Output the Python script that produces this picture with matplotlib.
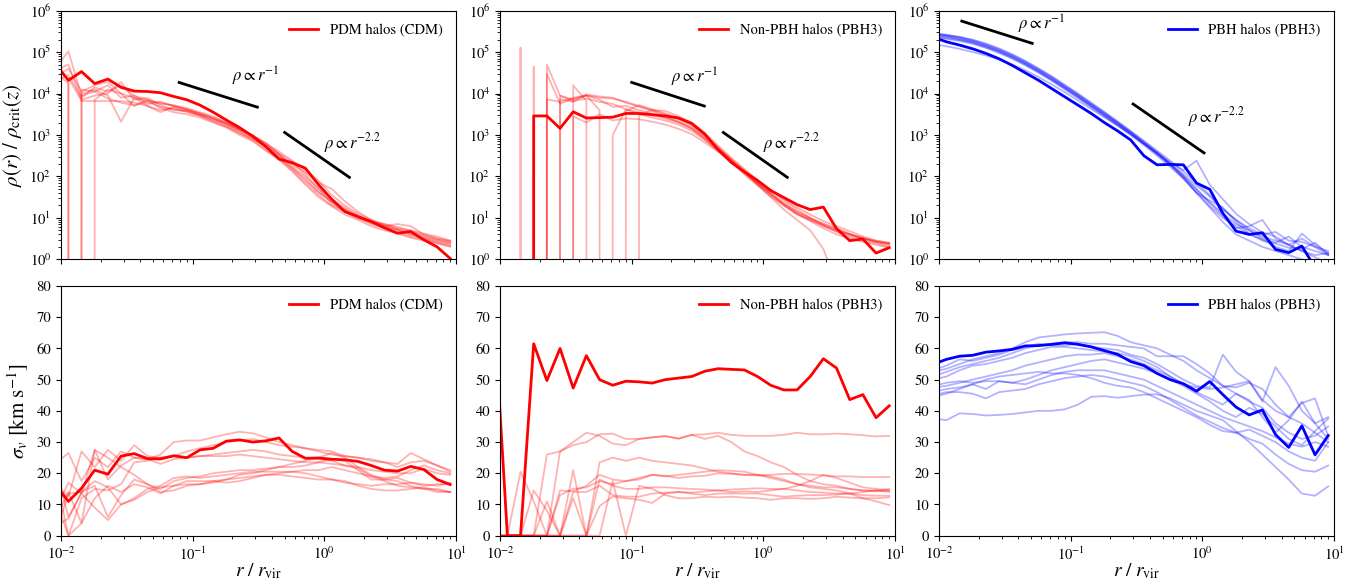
import numpy as np
import matplotlib
matplotlib.use("Agg")
import matplotlib.pyplot as plt

plt.rcParams["font.family"] = "serif"
plt.rcParams["font.serif"] = ["STIXGeneral", "Liberation Serif", "DejaVu Serif"]
plt.rcParams["mathtext.fontset"] = "stix"

Z = -np.inf  # empty bin (rho = 0)

# radial bins, r / r_vir (first one sits just left of the axis)
r_bins = [0.00904, 0.01138, 0.01432, 0.01803, 0.0227, 0.02858, 0.03597, 0.04529, 0.05702, 0.07178, 0.09036,
          0.1138, 0.1432, 0.1803, 0.2270, 0.2858, 0.3597, 0.4529, 0.5702, 0.7178, 0.9036,
          1.138, 1.432, 1.803, 2.270, 2.858, 3.597, 4.529, 5.702, 7.178, 9.036]

# ---- density profiles, log10(rho / rho_crit) ----
rho_cdm_main = [4.72, 4.32, 4.53, 4.24, 4.35, 4.15, 4.06, 4.05, 4.02, 3.93, 3.85,
                3.72, 3.55, 3.36, 3.18, 2.97, 2.72, 2.42, 2.33, 2.2, 1.8,
                1.45, 1.15, 1.03, 0.91, 0.76, 0.63, 0.67, 0.47, 0.3, 0.02]
rho_cdm_halos = [
    [4.6, 5.02, 3.95, 4.05, 4.2, 3.9, 3.95, 3.85, 3.75, 3.72, 3.65,
     3.55, 3.45, 3.3, 3.15, 3.0, 2.8, 2.55, 2.25, 2.0, 1.7,
     1.45, 1.25, 1.05, 0.9, 0.8, 0.72, 0.6, 0.52, 0.45, 0.38],
    [4.5, 4.25, Z, 3.85, 4.1, 4.0, 3.9, 3.82, 3.78, 3.7, 3.62,
     3.5, 3.4, 3.28, 3.12, 2.95, 2.72, 2.45, 2.15, 1.85, 1.55,
     1.3, 1.15, 1.0, 0.85, 0.75, 0.65, 0.55, 0.48, 0.4, 0.32],
    [4.65, Z, 4.0, 4.1, 3.95, 3.32, 3.9, 3.7, 3.55, 3.68, 3.6,
     3.52, 3.42, 3.3, 3.15, 2.98, 2.78, 2.52, 2.2, 1.9, 1.62,
     1.4, 1.2, 1.02, 0.88, 0.78, 0.7, 0.6, 0.5, 0.42, 0.35],
    [4.3, 4.45, 3.9, 4.15, 4.05, 4.2, 3.95, 3.75, 3.8, 3.7, 3.62,
     3.52, 3.4, 3.25, 3.1, 2.92, 2.7, 2.5, 2.3, 2.1, 1.85,
     1.7, 1.4, 1.15, 0.95, 0.82, 0.72, 0.65, 0.55, 0.47, 0.4],
    [4.55, 4.7, 3.85, 3.95, 4.0, 4.28, 3.85, 3.9, 3.72, 3.6, 3.58,
     3.48, 3.35, 3.22, 3.05, 2.9, 2.75, 2.55, 2.35, 2.05, 1.7,
     1.35, 1.15, 0.98, 0.92, 0.8, 0.85, 0.8, 0.6, 0.5, 0.45],
    [4.2, Z, 4.1, 4.05, 3.88, 3.78, 3.72, 3.8, 3.68, 3.62, 3.58,
     3.46, 3.32, 3.2, 3.05, 2.88, 2.65, 2.4, 2.12, 1.8, 1.5,
     1.28, 1.08, 0.95, 0.8, 0.7, 0.62, 0.52, 0.45, 0.38, 0.3],
    [Z, 4.38, 3.82, 3.82, 3.82, 3.82, 3.78, 3.7, 3.6, 3.65, 3.55,
     3.47, 3.37, 3.27, 3.12, 2.98, 2.8, 2.6, 2.38, 2.15, 1.9,
     1.55, 1.3, 1.1, 0.95, 0.85, 0.75, 0.7, 0.62, 0.55, 0.45],
    [4.4, 4.6, 4.05, 4.2, 4.28, 4.0, 3.7, 3.85, 3.65, 3.55, 3.5,
     3.42, 3.3, 3.18, 3.0, 2.85, 2.62, 2.42, 2.2, 1.95, 1.62,
     1.38, 1.2, 1.05, 0.9, 0.85, 0.78, 0.68, 0.58, 0.5, 0.42],
]

rho_npbh_main = [Z, Z, Z, 3.46, 3.46, 3.16, 3.56, 3.41, 3.42, 3.43, 3.52,
                 3.52, 3.49, 3.46, 3.41, 3.28, 3.02, 2.65, 2.34, 2.11, 1.9,
                 1.66, 1.49, 1.32, 1.2, 1.26, 0.74, 0.45, 0.49, 0.15, 0.28]
rho_npbh_halos = [
    [Z, Z, 5.11, Z, 4.7, 3.95, 3.85, 3.95, 3.9, 3.88, 3.8,
     3.7, 3.6, 3.5, 3.38, 3.22, 2.98, 2.7, 2.4, 2.1, 1.85,
     1.6, 1.35, 1.15, 1.0, 0.82, 0.66, 0.55, 0.45, 0.38, 0.3],
    [Z, Z, Z, 4.65, Z, 3.87, 3.8, 3.98, 3.93, 3.9, 3.78,
     3.68, 3.58, 3.45, 3.32, 3.15, 2.9, 2.62, 2.35, 2.08, 1.82,
     1.58, 1.32, 1.1, 0.92, 0.75, 0.6, 0.5, 0.42, 0.35, 0.28],
    [Z, Z, Z, Z, 4.48, 3.75, 3.88, 3.95, 3.6, Z, 3.58,
     3.72, 3.62, 3.52, 3.4, 3.25, 3.0, 2.7, 2.42, 2.15, 1.9,
     1.65, 1.42, 1.2, 1.0, 0.85, 0.72, 0.6, 0.5, 0.42, 0.36],
    [Z, Z, Z, Z, Z, Z, 4.2, 3.82, Z, 3.0, 3.62,
     3.55, 3.48, 3.4, 3.3, 3.15, 2.92, 2.65, 2.38, 2.1, 1.8,
     1.5, 1.2, 0.95, 0.7, 0.25, -0.6, -1.2, -1.5, -1.5, -1.5],
    [Z, Z, Z, Z, Z, Z, Z, Z, Z, Z, Z,
     3.48, 3.6, 3.58, 3.45, 3.3, 3.05, 2.75, 2.45, 2.18, 1.92,
     1.68, 1.45, 1.25, 1.08, 0.92, 0.8, 0.68, 0.55, 0.45, 0.4],
    [Z, Z, Z, Z, Z, 3.95, 3.82, 3.88, 3.8, 3.75, 3.62,
     3.5, 3.42, 3.35, 3.25, 3.1, 2.88, 2.62, 2.35, 2.05, 1.78,
     1.52, 1.3, 1.08, 0.95, 0.8, 0.68, 0.6, 0.5, 0.42, 0.35],
    [Z, Z, Z, Z, 3.86, 3.8, 3.9, 3.96, 3.85, 3.68, 3.7,
     3.6, 3.52, 3.42, 3.32, 3.18, 2.95, 2.68, 2.4, 2.12, 1.85,
     1.58, 1.35, 1.14, 0.98, 0.86, 0.75, 0.62, 0.5, 0.42, 0.38],
    [Z, Z, Z, Z, Z, Z, 3.45, 3.3, 3.5, 3.35, 3.4,
     3.38, 3.32, 3.25, 3.15, 3.02, 2.82, 2.6, 2.35, 2.1, 1.82,
     1.55, 1.3, 1.1, 0.95, 0.82, 0.7, 0.6, 0.52, 0.45, 0.4],
]

rho_pbh_main = [5.36, 5.25, 5.17, 5.08, 4.97, 4.84, 4.68, 4.5, 4.32, 4.12, 3.92,
                3.72, 3.52, 3.3, 3.1, 2.88, 2.5, 2.28, 2.29, 2.28, 1.84,
                1.69, 1.11, 0.68, 0.6, 0.64, 0.24, 0.16, 0.32, -0.2, -0.1]
rho_pbh_halos = [
    [5.46, 5.42, 5.37, 5.3, 5.21, 5.09, 4.95, 4.79, 4.61, 4.42, 4.21,
     4.0, 3.78, 3.56, 3.33, 3.1, 2.86, 2.62, 2.38, 2.12, 1.85,
     1.55, 1.2, 0.95, 0.7, 0.5, 0.4, 0.55, 0.3, 0.2, 0.1],
    [5.44, 5.4, 5.35, 5.27, 5.17, 5.05, 4.91, 4.75, 4.57, 4.38, 4.17,
     3.96, 3.74, 3.52, 3.3, 3.06, 2.82, 2.58, 2.34, 2.15, 2.38,
     1.8, 1.45, 1.1, 0.85, 0.65, 0.55, 0.35, 0.2, 0.1, 0.15],
    [5.42, 5.38, 5.32, 5.25, 5.15, 5.03, 4.89, 4.73, 4.55, 4.36, 4.15,
     3.94, 3.72, 3.5, 3.28, 3.05, 2.8, 2.56, 2.3, 2.02, 1.7,
     1.35, 1.05, 0.75, 0.8, 0.95, 0.5, 0.35, 0.5, 0.3, 0.1],
    [5.4, 5.37, 5.31, 5.24, 5.14, 5.02, 4.88, 4.72, 4.54, 4.34, 4.14,
     3.93, 3.71, 3.49, 3.27, 3.04, 2.8, 2.55, 2.28, 1.98, 1.6,
     1.42, 1.25, 0.9, 0.62, 0.45, 0.38, 0.28, 0.25, 0.4, 0.12],
    [5.38, 5.34, 5.29, 5.22, 5.12, 5.0, 4.86, 4.7, 4.52, 4.33, 4.12,
     3.91, 3.69, 3.47, 3.25, 3.02, 2.78, 2.54, 2.3, 2.0, 1.68,
     1.38, 1.1, 0.85, 0.7, 0.55, 0.45, 0.35, 0.2, 0.05, -0.1],
    [5.2, 5.14, 5.08, 5.0, 4.92, 4.82, 4.7, 4.56, 4.4, 4.22, 4.03,
     3.83, 3.63, 3.43, 3.23, 3.02, 2.79, 2.55, 2.28, 1.95, 1.6,
     1.25, 0.9, 0.6, 0.45, 0.3, 0.2, 0.1, 0.0, -0.1, -0.3],
    [5.45, 5.41, 5.36, 5.29, 5.19, 5.07, 4.93, 4.77, 4.59, 4.4, 4.19,
     3.98, 3.76, 3.54, 3.31, 3.08, 2.84, 2.59, 2.32, 2.05, 1.78,
     1.52, 1.22, 0.95, 0.75, 0.6, 0.66, 0.45, 0.42, 0.3, 0.2],
    [5.36, 5.32, 5.27, 5.2, 5.1, 4.98, 4.84, 4.68, 4.5, 4.31, 4.1,
     3.89, 3.67, 3.45, 3.23, 3.0, 2.76, 2.5, 2.23, 1.95, 1.62,
     1.28, 1.0, 0.8, 0.6, 0.48, 0.3, 0.2, 0.62, 0.35, 0.15],
]

# ---- velocity dispersion profiles, km/s ----
sig_cdm_main = [16.4, 11.0, 15.2, 21.0, 19.7, 25.5, 26.3, 24.7, 24.6, 25.6, 25.0,
                27.5, 28.0, 30.3, 30.7, 30.0, 30.4, 31.3, 27.0, 24.8, 24.9,
                24.5, 24.3, 23.8, 22.5, 21.0, 20.7, 22.2, 21.2, 18.0, 16.4]
sig_cdm_halos = [
    [23.0, 26.5, 17.5, 25.0, 22.0, 27.0, 25.0, 24.5, 26.0, 30.0, 30.5,
     30.5, 31.5, 32.5, 33.3, 32.8, 31.5, 30.0, 29.0, 28.0, 27.0,
     26.0, 25.5, 25.0, 24.5, 23.5, 23.0, 26.5, 24.5, 22.5, 21.0],
    [17.0, 12.5, 27.0, 22.0, 27.5, 24.0, 29.0, 25.5, 25.0, 25.5, 27.0,
     28.0, 29.0, 30.0, 30.5, 31.0, 30.0, 29.0, 28.5, 28.0, 27.5,
     27.0, 25.5, 25.0, 24.0, 23.5, 22.0, 23.5, 24.0, 22.5, 20.5],
    [8.0, 17.0, 13.5, 27.5, 18.0, 22.5, 25.0, 24.5, 23.0, 24.5, 25.0,
     25.5, 26.0, 26.5, 27.0, 27.5, 27.0, 26.0, 25.5, 25.0, 24.5,
     24.0, 22.5, 22.0, 21.0, 20.5, 20.0, 20.0, 21.5, 20.0, 19.5],
    [12.0, 0.0, 12.0, 15.0, 14.5, 16.5, 23.5, 24.0, 25.0, 25.5, 25.0,
     25.5, 25.5, 25.5, 26.0, 25.5, 25.0, 24.5, 24.0, 23.5, 23.5,
     23.0, 22.5, 21.5, 19.0, 18.5, 19.0, 21.0, 22.5, 21.0, 20.0],
    [5.0, 14.0, 4.0, 27.5, 25.0, 22.0, 19.5, 16.5, 15.0, 17.5, 18.5,
     19.0, 20.0, 20.5, 21.0, 21.0, 21.5, 22.0, 22.0, 22.5, 23.5,
     24.5, 24.0, 21.0, 18.0, 18.0, 18.5, 17.0, 16.0, 16.5, 16.5],
    [0.0, 13.5, 14.0, 17.5, 15.5, 10.0, 12.0, 15.0, 16.0, 18.5, 19.0,
     18.5, 19.0, 19.5, 20.0, 20.5, 20.5, 20.5, 20.5, 21.0, 21.0,
     22.0, 21.0, 20.0, 19.0, 17.5, 16.0, 15.5, 15.0, 15.0, 14.0],
    [20.0, 0.0, 4.0, 12.0, 16.0, 14.0, 16.5, 15.5, 13.5, 16.0, 17.5,
     17.5, 17.5, 17.0, 17.5, 18.5, 19.5, 20.0, 20.5, 20.0, 19.0,
     18.0, 17.5, 16.0, 15.0, 14.5, 14.5, 15.0, 15.5, 14.5, 14.0],
    [22.5, 6.0, 13.5, 9.0, 5.0, 10.0, 11.5, 14.0, 15.5, 16.0, 16.5,
     16.5, 17.0, 18.0, 19.5, 20.0, 21.0, 22.0, 23.0, 24.0, 25.0,
     26.5, 25.0, 22.0, 19.5, 18.0, 17.5, 16.0, 15.0, 14.0, 14.0],
    [3.0, 5.5, 14.0, 16.0, 6.0, 13.0, 18.0, 16.5, 14.0, 14.5, 16.0,
     16.5, 17.5, 18.0, 18.5, 19.0, 19.5, 19.5, 19.0, 18.5, 18.0,
     18.0, 17.0, 16.5, 16.0, 16.5, 16.5, 17.0, 16.5, 16.0, 17.0],
]

sig_npbh_main = [71.0, 0.0, 0.0, 61.5, 49.7, 60.0, 47.3, 57.7, 50.0, 48.2, 49.5,
                 49.3, 48.9, 50.0, 50.5, 51.0, 52.7, 53.5, 53.3, 53.1, 51.0,
                 48.2, 46.7, 46.7, 51.0, 56.7, 53.7, 43.6, 45.2, 37.8, 41.6]
sig_npbh_halos = [
    [0, 0, 0, 0, 26.0, 27.0, 29.0, 30.0, 32.5, 32.7, 31.0,
     31.0, 31.5, 31.8, 31.2, 32.3, 32.5, 33.0, 32.3, 32.0, 32.0,
     32.0, 32.3, 33.0, 32.5, 32.5, 32.7, 32.5, 32.2, 31.8, 32.0],
    [0, 0, 0, 0, 0, 27.0, 30.0, 33.0, 32.0, 29.5, 29.0,
     31.0, 31.5, 32.0, 31.0, 32.3, 31.0, 32.0, 30.0, 27.0, 25.5,
     23.5, 22.0, 19.5, 17.5, 16.5, 16.0, 15.0, 14.5, 14.5, 14.0],
    [0, 0, 0, 0, 0, 0, 0, 0, 23.5, 25.0, 24.0,
     25.0, 24.0, 23.5, 23.0, 22.5, 21.5, 20.5, 20.0, 19.5, 19.5,
     19.0, 18.0, 16.5, 15.5, 15.0, 14.5, 13.5, 12.0, 11.0, 9.8],
    [0, 0, 0, 0, 0, 14.5, 14.2, 16.0, 19.5, 18.0, 17.5,
     18.0, 19.5, 19.2, 18.5, 19.0, 19.2, 20.0, 19.8, 19.5, 19.3,
     19.5, 19.8, 19.8, 19.6, 19.3, 19.0, 19.0, 18.8, 18.8, 18.8],
    [0, 0, 20.5, 11.0, 0, 13.0, 15.0, 15.5, 17.5, 16.5, 17.5,
     18.5, 19.5, 19.0, 19.5, 20.0, 20.5, 21.0, 20.8, 20.5, 19.5,
     18.5, 17.5, 16.5, 16.0, 15.5, 15.5, 15.0, 14.5, 14.2, 14.5],
    [0, 0, 0, 14.5, 8.0, 0, 14.0, 14.0, 16.0, 13.0, 12.5,
     12.5, 13.5, 13.8, 14.0, 13.8, 14.2, 14.5, 14.0, 14.2, 14.0,
     14.5, 15.0, 14.5, 14.0, 13.8, 13.5, 13.5, 14.0, 14.5, 15.0],
    [0, 0, 0, 0, 11.0, 0, 12.0, 0, 9.5, 12.5, 12.0,
     11.5, 10.5, 13.5, 14.0, 13.5, 13.0, 13.5, 13.5, 13.5, 13.5,
     13.0, 12.5, 12.8, 13.0, 13.0, 13.2, 13.5, 13.0, 12.8, 12.8],
    [0, 0, 0, 0, 0, 0, 21.0, 0, 0, 17.5, 0,
     16.0, 15.0, 13.0, 12.0, 12.0, 12.5, 12.3, 12.5, 12.2, 12.0,
     11.5, 12.0, 12.0, 11.8, 12.0, 12.5, 12.2, 12.0, 12.0, 12.3],
    [0, 0, 0, 0, 0, 0, 0, 0, 18.0, 16.0, 15.0,
     15.0, 15.5, 15.5, 15.2, 15.0, 14.8, 14.5, 14.8, 15.0, 15.2,
     15.0, 15.0, 16.0, 17.5, 19.5, 18.5, 17.0, 15.5, 15.0, 14.5],
]

sig_pbh_main = [54.9, 56.5, 57.5, 57.8, 58.8, 59.2, 59.7, 60.8, 60.9, 61.3, 61.8,
                61.3, 60.5, 59.3, 58.1, 55.8, 54.5, 52.0, 50.0, 48.7, 46.3,
                49.4, 45.2, 41.2, 38.7, 40.3, 32.4, 28.3, 35.2, 25.9, 32.1]
sig_pbh_halos = [
    [52.5, 53.5, 55.0, 56.5, 57.5, 58.5, 60.0, 62.0, 63.5, 64.0, 64.5,
     64.8, 65.0, 65.2, 64.0, 62.0, 61.0, 60.0, 58.0, 56.0, 53.0,
     50.5, 48.0, 45.5, 43.0, 41.0, 36.0, 33.0, 31.0, 32.0, 35.0],
    [51.0, 52.5, 54.0, 55.0, 56.0, 57.0, 58.5, 60.0, 61.0, 61.5, 62.0,
     62.0, 61.5, 61.5, 61.0, 60.5, 60.0, 57.5, 57.5, 57.5, 55.0,
     52.0, 48.0, 47.5, 49.0, 47.0, 42.0, 38.0, 36.0, 33.0, 30.0],
    [53.0, 54.5, 56.5, 56.0, 57.0, 58.0, 59.5, 60.5, 61.5, 61.0, 61.0,
     61.5, 60.5, 60.0, 59.5, 58.0, 57.0, 55.0, 52.5, 50.0, 48.0,
     47.5, 58.0, 52.5, 49.5, 43.0, 54.0, 48.0, 40.0, 36.0, 31.0],
    [50.0, 51.0, 53.0, 54.5, 55.0, 56.0, 57.0, 58.5, 59.5, 60.5, 60.5,
     60.0, 59.5, 59.0, 58.5, 57.5, 56.0, 54.0, 51.0, 48.5, 47.5,
     47.0, 47.5, 48.5, 49.5, 43.5, 40.0, 38.0, 42.5, 44.0, 32.0],
    [47.5, 48.0, 49.0, 50.0, 51.0, 52.0, 53.0, 54.5, 55.5, 56.5, 57.5,
     58.0, 58.0, 58.5, 57.5, 56.5, 55.0, 53.0, 51.0, 48.5, 46.0,
     44.0, 42.0, 45.5, 43.5, 38.0, 33.0, 37.0, 43.0, 36.0, 38.0],
    [48.0, 49.0, 49.5, 49.0, 49.5, 49.5, 49.0, 50.0, 51.5, 53.0, 54.0,
     55.0, 56.0, 56.5, 55.5, 54.5, 53.5, 52.0, 50.0, 48.0, 45.5,
     43.0, 40.0, 38.0, 41.0, 39.0, 35.0, 31.0, 29.0, 33.5, 37.5],
    [46.0, 47.0, 47.5, 48.5, 47.0, 49.5, 49.0, 48.5, 50.0, 51.5, 52.5,
     53.0, 53.0, 53.0, 52.0, 51.0, 50.0, 48.0, 46.0, 44.0, 42.0,
     40.0, 38.0, 36.5, 35.0, 33.5, 31.5, 29.5, 28.5, 30.0, 28.5],
    [45.0, 46.0, 46.0, 45.5, 44.0, 46.0, 46.5, 47.0, 48.5, 49.5, 50.5,
     51.0, 51.5, 51.0, 50.0, 49.0, 48.0, 46.0, 43.5, 41.0, 38.5,
     36.5, 34.5, 33.0, 31.0, 29.5, 26.0, 23.0, 21.0, 20.5, 22.5],
    [44.5, 45.5, 47.0, 48.5, 50.0, 51.0, 51.5, 52.0, 52.5, 52.0, 52.0,
     51.5, 50.5, 49.0, 48.0, 47.5, 46.0, 44.0, 42.0, 40.0, 38.0,
     35.5, 33.5, 33.0, 34.0, 32.0, 30.0, 27.0, 25.0, 24.0, 30.0],
    [37.6, 37.0, 39.2, 39.0, 38.5, 38.7, 39.0, 39.5, 40.0, 40.0, 40.5,
     42.0, 44.5, 44.7, 44.2, 44.7, 45.2, 45.3, 44.0, 42.0, 40.0,
     38.5, 37.0, 33.5, 30.0, 26.0, 22.0, 18.0, 13.5, 12.8, 15.8],
]

labels = ["PDM halos (CDM)", "Non-PBH halos (PBH3)", "PBH halos (PBH3)"]
colors = ["red", "red", "blue"]

# power-law guide segments: (r ends, rho ends) for r^-1 and r^-2.2, and label anchors
guide_r1 = [[0.079, 0.31], [0.10, 0.356], [0.0149, 0.051]]
guide_rho1 = [[1.85e4, 4.7e3], [1.86e4, 5.0e3], [5.6e5, 1.63e5]]
guide_r2 = [[0.50, 1.55], [0.497, 1.52], [0.298, 1.03]]
guide_rho2 = [[1.15e3, 9.5e1], [1.15e3, 9.5e1], [5.6e3, 3.7e2]]
text1_pos = [(0.30, 2.6e4), (0.30, 2.45e4), (0.06, 4.6e5)]
text2_pos = [(1.63, 6.3e2), (1.64, 6.3e2), (1.28, 2.75e3)]

rho_main = [rho_cdm_main, rho_npbh_main, rho_pbh_main]
rho_halos = [rho_cdm_halos, rho_npbh_halos, rho_pbh_halos]
sig_main = [sig_cdm_main, sig_npbh_main, sig_pbh_main]
sig_halos = [sig_cdm_halos, sig_npbh_halos, sig_pbh_halos]

W, H = 1363, 587
fig = plt.figure(figsize=(W / 100, H / 100), dpi=100)

col_left = [61, 500, 939]
ax_w = 395


def px_axes(left, top, bottom):
    return fig.add_axes([left / W, 1 - bottom / H, ax_w / W, (bottom - top) / H])


for i in range(3):
    # density row
    ax = px_axes(col_left[i], 10.7, 259.3)
    for h in rho_halos[i]:
        ax.plot(r_bins, 10.0 ** np.array(h), color=colors[i], alpha=0.3, lw=1.3)
    ax.plot(r_bins, 10.0 ** np.array(rho_main[i]), color=colors[i], lw=2, label=labels[i])
    ax.plot(guide_r1[i], guide_rho1[i], color="k", lw=2)
    ax.plot(guide_r2[i], guide_rho2[i], color="k", lw=2)
    ax.text(*text1_pos[i], r"$\rho \propto r^{-1}$", fontsize=12, ha="center", va="center")
    ax.text(*text2_pos[i], r"$\rho \propto r^{-2.2}$", fontsize=12, ha="center", va="center")
    ax.set_xscale("log")
    ax.set_yscale("log")
    ax.set_xlim(1e-2, 1e1)
    ax.set_ylim(1, 1e6)
    ax.tick_params(labelbottom=False, labelsize=10.5)
    if i == 0:
        ax.set_ylabel(r"$\rho(r)\ /\ \rho_{\rm crit}(z)$", fontsize=15)
    ax.legend(loc="upper right", frameon=False, fontsize=10.5)

    # velocity dispersion row
    ax = px_axes(col_left[i], 286, 535.7)
    for h in sig_halos[i]:
        ax.plot(r_bins, h, color=colors[i], alpha=0.3, lw=1.3)
    ax.plot(r_bins, sig_main[i], color=colors[i], lw=2, label=labels[i])
    ax.set_xscale("log")
    ax.set_xlim(1e-2, 1e1)
    ax.set_ylim(0, 80)
    ax.set_yticks(np.arange(0, 81, 10))
    ax.tick_params(labelsize=10.5)
    ax.set_xlabel(r"$r\ /\ r_{\rm vir}$", fontsize=14, labelpad=-1)
    if i == 0:
        ax.set_ylabel(r"$\sigma_v$ [km s$^{-1}$]", fontsize=15)
    ax.legend(loc="upper right", frameon=False, fontsize=10.5)

fig.savefig("out.png", dpi=100)
